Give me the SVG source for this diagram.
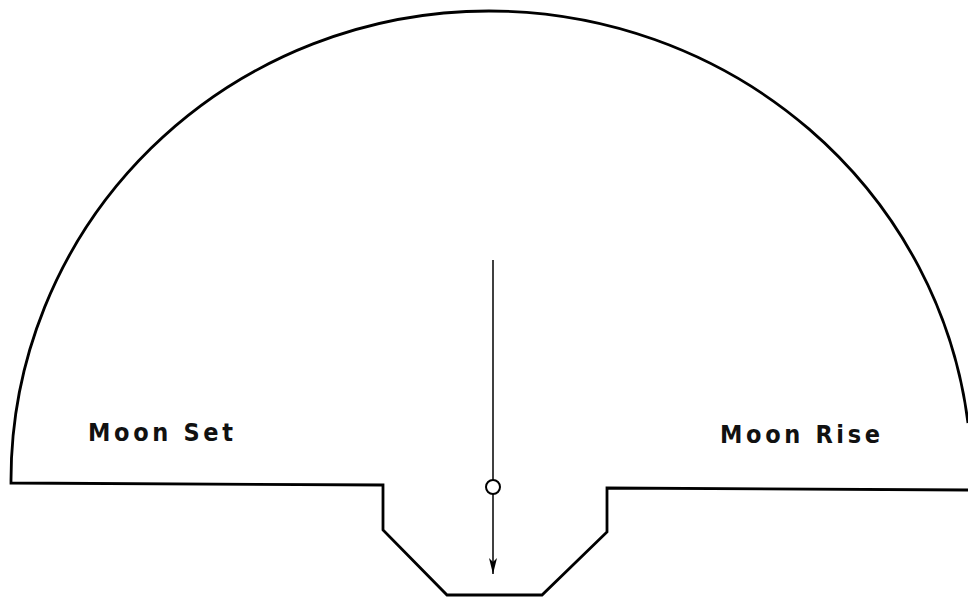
<svg xmlns="http://www.w3.org/2000/svg" width="968" height="599" viewBox="0 0 968 599">
<style>
.outline{fill:none;stroke:#000;stroke-width:2.8;stroke-linejoin:miter}
.thin{fill:none;stroke:#000;stroke-width:1.5}
.lbl{font-family:"DejaVu Sans Condensed","DejaVu Sans",sans-serif;font-weight:bold;font-size:25px;fill:#111}
</style>
<defs>
<marker id="ah" markerWidth="16" markerHeight="8" refX="16" refY="4" orient="auto" markerUnits="userSpaceOnUse" viewBox="0 0 16 8">
<path d="M0,0 L16,4 L0,8 L4,4 Z" fill="#000"/>
</marker>
</defs>
<g id="dome">
<path class="outline" d="M968,423 A483,469 0 0 0 489,11 A478,469 0 0 0 11,480 L11,483 L383,485 L383,530 L447,595 L542,595 L607,532 L607,488 L968,490"/>
</g>
<g id="connectors">
<line class="thin" x1="493" y1="260" x2="493" y2="480"/>
<line class="thin" x1="493" y1="494" x2="493" y2="574" marker-end="url(#ah)"/>
</g>
<g id="moon">
<circle cx="493" cy="487" r="7" fill="#fff" stroke="#000" stroke-width="2"/>
</g>
<g id="label-set">
<text class="lbl" x="88" y="441" textLength="145" lengthAdjust="spacing">Moon Set</text>
</g>
<g id="label-rise">
<text class="lbl" x="720" y="443" textLength="160" lengthAdjust="spacing">Moon Rise</text>
</g>
</svg>
